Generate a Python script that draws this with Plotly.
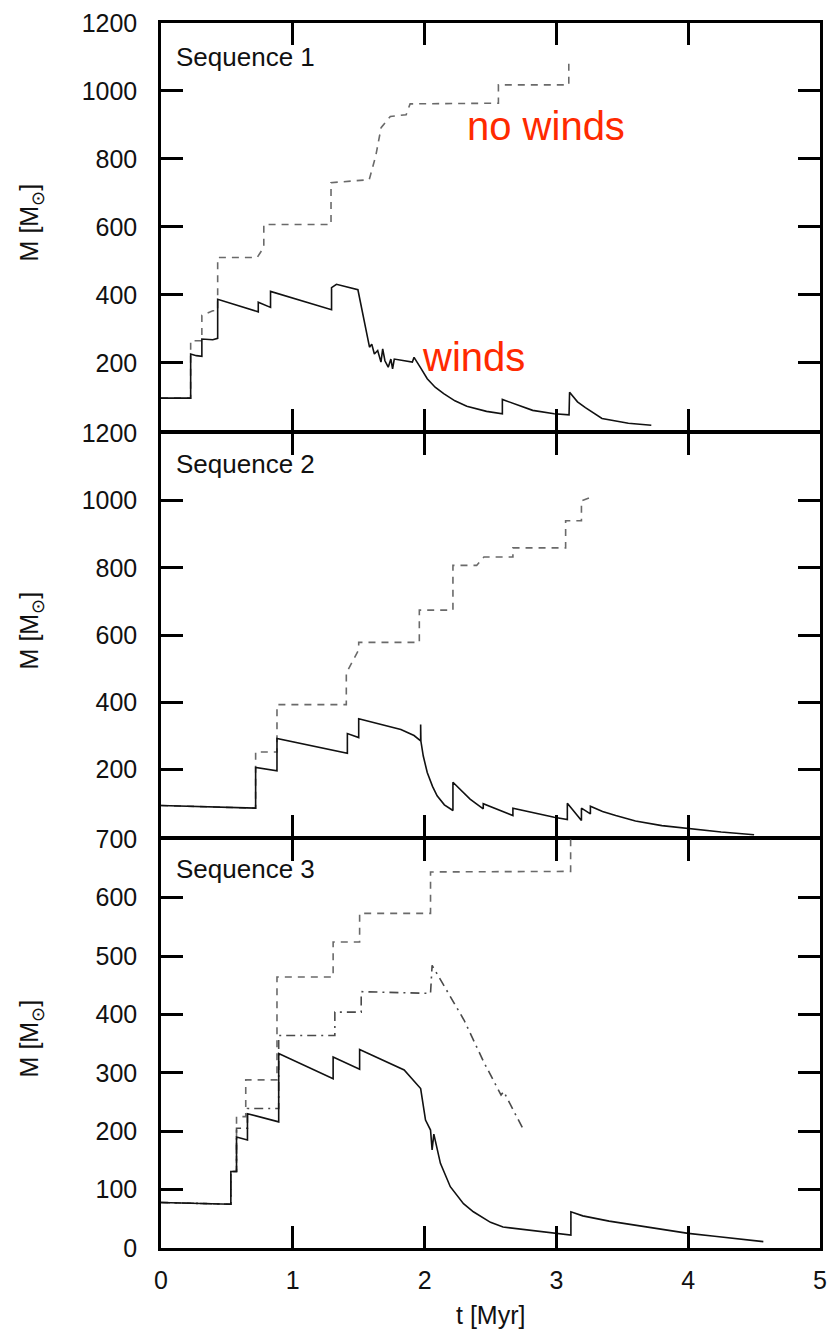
import plotly.graph_objects as go

# ---------------- data: mass M [Msun] versus time t [Myr] ----------------
# Sequence 1
s1_wind_t = [0.0, 0.225, 0.225, 0.268, 0.31, 0.31, 0.393, 0.43, 0.43, 0.738, 0.738, 0.831, 0.831,
             1.294, 1.294, 1.331, 1.494, 1.532, 1.569, 1.582, 1.599, 1.619, 1.644, 1.669, 1.682,
             1.699, 1.724, 1.744, 1.757, 1.77, 1.907, 1.92, 1.97, 2.02, 2.08, 2.145, 2.23, 2.32,
             2.47, 2.59, 2.59, 2.82, 2.983, 3.096, 3.1, 3.16, 3.22, 3.346, 3.546, 3.72]
s1_wind_m = [96, 96, 226, 221, 219, 270, 268, 272, 387, 350, 378, 363, 410,
             356, 421, 431, 415, 338, 262, 246, 255, 226, 236, 202, 241,
             206, 187, 211, 182, 211, 202, 216, 185, 153, 128, 109, 88, 72,
             57, 50, 92, 60, 50, 47, 113, 85, 68, 36, 22, 16]
s1_nowind_t = [0.0, 0.225, 0.225, 0.31, 0.31, 0.393, 0.43, 0.43, 0.73, 0.78, 0.78, 1.29, 1.29,
               1.58, 1.63, 1.67, 1.74, 1.86, 1.89, 2.56, 2.56, 3.094, 3.094]
s1_nowind_m = [96, 96, 265, 265, 340, 353, 353, 510, 510, 540, 607, 607, 730,
               739, 810, 892, 925, 930, 962, 964, 1018, 1018, 1093]

# Sequence 2
s2_wind_t = [0.0, 0.568, 0.718, 0.718, 0.88, 0.88, 1.414, 1.414, 1.5, 1.5, 1.82, 1.92, 1.97,
             1.97, 1.972, 1.99, 2.02, 2.06, 2.095, 2.15, 2.215, 2.215, 2.345, 2.445, 2.445,
             2.67, 2.67, 2.983, 3.083, 3.083, 3.19, 3.19, 3.258, 3.258, 3.35, 3.45, 3.6, 3.8,
             4.0, 4.25, 4.5]
s2_wind_m = [93, 85, 85, 206, 196, 292, 248, 307, 295, 351, 319, 301, 285,
             334, 284, 240, 191, 150, 122, 95, 78, 162, 112, 83, 98,
             63, 85, 58, 51, 100, 48, 85, 68, 91, 75, 63, 47, 33,
             24, 14, 6]
s2_nowind_t = [0.0, 0.718, 0.718, 0.88, 0.88, 1.406, 1.406, 1.5, 1.5, 1.96, 1.96, 2.215, 2.215,
               2.395, 2.45, 2.67, 2.67, 3.07, 3.07, 3.19, 3.19, 3.27]
s2_nowind_m = [93, 85, 252, 252, 393, 393, 487, 556, 578, 578, 674, 674, 807,
               807, 832, 832, 859, 859, 940, 940, 999, 1011]

# Sequence 3
s3_wind_t = [0.0, 0.53, 0.53, 0.573, 0.573, 0.656, 0.656, 0.893, 0.893, 1.306, 1.306, 1.507,
             1.507, 1.845, 1.97, 2.007, 2.045, 2.057, 2.07, 2.12, 2.195, 2.25, 2.295, 2.37,
             2.445, 2.5, 2.595, 3.11, 3.11, 3.2, 3.4, 3.6, 3.8, 4.0, 4.2, 4.4, 4.57]
s3_wind_m = [78, 75, 131, 131, 190, 185, 230, 216, 333, 290, 327, 306,
             340, 305, 273, 219, 202, 168, 195, 145, 105, 88, 76, 62,
             51, 44, 36, 22, 62, 55, 46, 39, 32, 25, 20, 15, 11]
s3_nowind_t = [0.0, 0.53, 0.53, 0.573, 0.573, 0.643, 0.643, 0.88, 0.88, 1.306, 1.306, 1.507,
               1.507, 2.045, 2.045, 2.6, 3.108, 3.108]
s3_nowind_m = [78, 75, 131, 131, 225, 225, 288, 288, 464, 464, 524, 524,
               573, 573, 644, 645, 645, 700]
s3_mid_t = [0.0, 0.53, 0.53, 0.573, 0.573, 0.656, 0.656, 0.85, 0.893, 0.893, 1.319, 1.319,
            1.519, 1.519, 2.045, 2.057, 2.3, 2.45, 2.58, 2.6, 2.758]
s3_mid_m = [78, 75, 131, 131, 205, 205, 239, 239, 239, 364, 364, 404,
            404, 439, 436, 484, 390, 318, 262, 268, 199]

x_ticks = [0, 1, 2, 3, 4, 5]
y_ticks_12 = [0, 200, 400, 600, 800, 1000, 1200]
y_text_12 = ["", "200", "400", "600", "800", "1000", "1200"]
y_ticks_3 = [0, 100, 200, 300, 400, 500, 600, 700]

# ---------------- layout geometry (pixels) ----------------
W, H = 835, 1333
L, R, T, B = 161, 8, 23, 85
plot_h = H - T - B
plot_w = W - L - R
LW = 2.5  # frame line width


def py2paper(py):
    return (H - B - py) / plot_h


def px2paper(px):
    return (px - L) / plot_w


# shared panel borders: leave a gap of one line width so both frame lines coincide
p1_bot = py2paper(432 - LW / 2)
p2_top = py2paper(432 + LW / 2)
p2_bot = py2paper(838 - LW / 2)
p3_top = py2paper(838 + LW / 2)

FONT = "Liberation Sans, Arial, Helvetica, sans-serif"
solid = dict(color="#111111", width=1.6)
dashed = dict(color="#6a6a6a", width=1.6, dash="7px,6px")
dashdot = dict(color="#4a4a4a", width=1.6, dash="9px,5px,2px,5px")

fig = go.Figure()
panels = [
    ("y", "x", s1_wind_t, s1_wind_m, s1_nowind_t, s1_nowind_m),
    ("y2", "x2", s2_wind_t, s2_wind_m, s2_nowind_t, s2_nowind_m),
    ("y3", "x3", s3_wind_t, s3_wind_m, s3_nowind_t, s3_nowind_m),
]
for ya, xa, wt, wm, nt, nm in panels:
    fig.add_trace(go.Scatter(x=nt, y=nm, mode="lines", line=dashed, xaxis=xa, yaxis=ya,
                             showlegend=False, hoverinfo="skip"))
    if ya == "y3":
        fig.add_trace(go.Scatter(x=s3_mid_t, y=s3_mid_m, mode="lines", line=dashdot,
                                 xaxis=xa, yaxis=ya, showlegend=False, hoverinfo="skip"))
    fig.add_trace(go.Scatter(x=wt, y=wm, mode="lines", line=solid, xaxis=xa, yaxis=ya,
                             showlegend=False, hoverinfo="skip"))

axis_common = dict(showline=True, linecolor="black", linewidth=LW, mirror="allticks",
                   ticks="inside", ticklen=22, tickwidth=2.5, tickcolor="black",
                   showgrid=False, zeroline=False,
                   tickfont=dict(family=FONT, size=25, color="#111111"))

xa_common = dict(axis_common, range=[0, 5], tickvals=x_ticks)
fig.update_layout(
    xaxis=dict(xa_common, anchor="y", domain=[0, 1], showticklabels=False),
    xaxis2=dict(xa_common, anchor="y2", domain=[0, 1], matches="x", showticklabels=False),
    xaxis3=dict(xa_common, anchor="y3", domain=[0, 1], matches="x", showticklabels=True,
                ticklabelstandoff=8),
    yaxis=dict(axis_common, anchor="x", domain=[p1_bot, 1], range=[0, 1200],
               tickvals=y_ticks_12, ticktext=y_text_12, ticklabelstandoff=16),
    yaxis2=dict(axis_common, anchor="x2", domain=[p2_bot, p2_top], range=[0, 1200],
                tickvals=y_ticks_12, ticktext=y_text_12, ticklabelstandoff=16),
    yaxis3=dict(axis_common, anchor="x3", domain=[0, p3_top], range=[0, 700],
                tickvals=y_ticks_3, ticklabelstandoff=16),
)

annotations = []
# panel captions
for label, py in [("Sequence 1", 57), ("Sequence 2", 464), ("Sequence 3", 869)]:
    annotations.append(dict(text=label, xref="paper", yref="paper", x=px2paper(174),
                            y=py2paper(py), xanchor="left", yanchor="middle", showarrow=False,
                            font=dict(family=FONT, size=26, color="#111111")))
# y-axis titles
for py in [222, 630, 1038]:
    annotations.append(dict(text="M [M<sub>⊙</sub>]", xref="paper", yref="paper",
                            x=px2paper(30), y=py2paper(py), textangle=-90,
                            xanchor="center", yanchor="middle", showarrow=False,
                            font=dict(family=FONT, size=25, color="#111111")))
# x-axis title
annotations.append(dict(text="t [Myr]", xref="paper", yref="paper", x=px2paper(494),
                        y=py2paper(1315), xanchor="center", yanchor="middle", showarrow=False,
                        font=dict(family=FONT, size=25, color="#111111")))
# curve labels
annotations.append(dict(text="no winds", xref="paper", yref="paper", x=px2paper(550),
                        y=py2paper(126), xanchor="center", yanchor="middle", showarrow=False,
                        font=dict(family=FONT, size=40, color="#ff2a00")))
annotations.append(dict(text="winds", xref="paper", yref="paper", x=px2paper(477),
                        y=py2paper(357), xanchor="center", yanchor="middle", showarrow=False,
                        font=dict(family=FONT, size=40, color="#ff2a00")))

fig.update_layout(
    width=W, height=H,
    margin=dict(l=L, r=R, t=T, b=B, pad=0),
    paper_bgcolor="white", plot_bgcolor="white",
    annotations=annotations,
    showlegend=False,
)

fig.write_html("out.html")
